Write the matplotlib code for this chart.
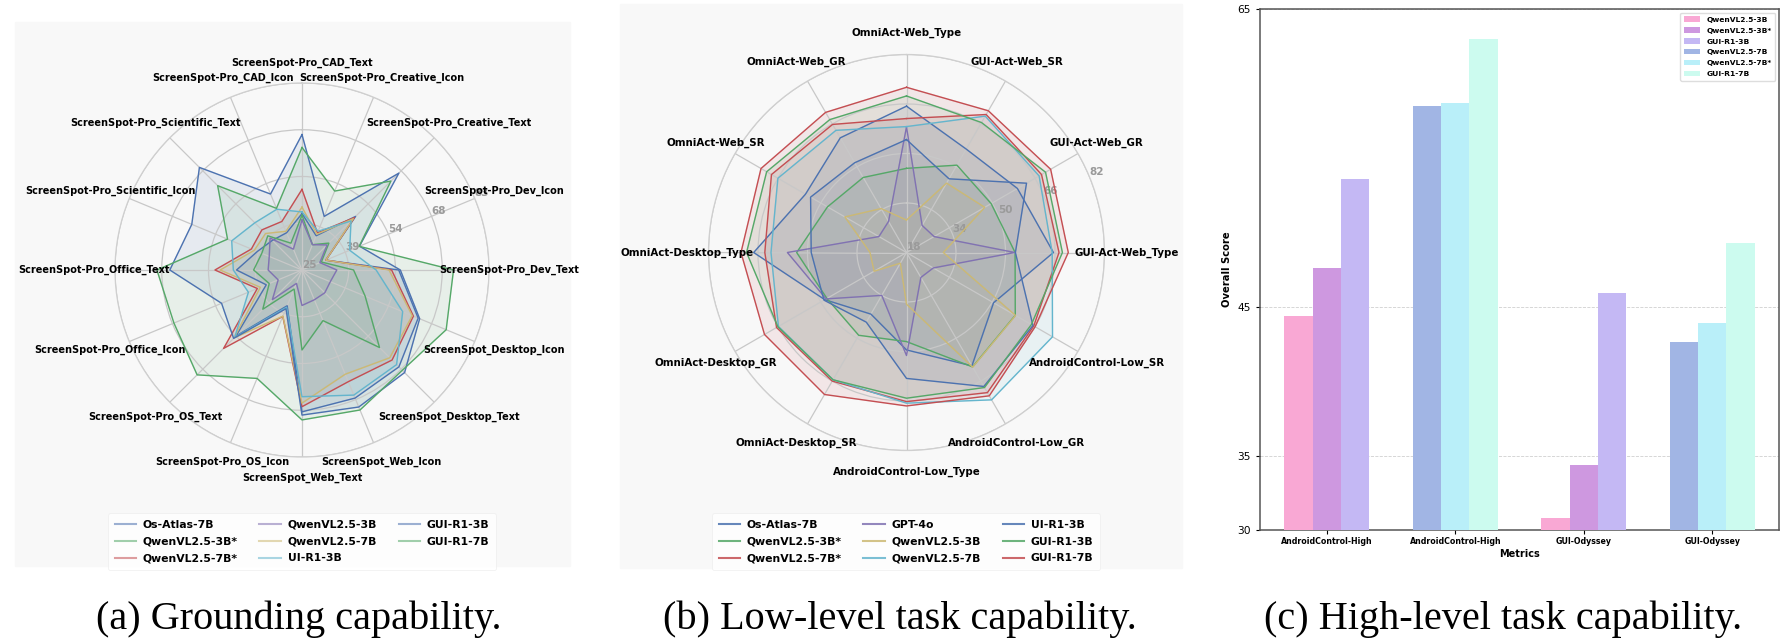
import numpy as np
import matplotlib.pyplot as plt
from matplotlib.lines import Line2D
from matplotlib.patches import Rectangle

# palette used for the radar lines (cycled)
radar_colors = ["#4C72B0", "#55A868", "#C44E52", "#8172B2", "#CCB974", "#64B5CD"]

# ---------------- (a) grounding capability ----------------
ground_cats = [
    "ScreenSpot-Pro_CAD_Text", "ScreenSpot-Pro_CAD_Icon", "ScreenSpot-Pro_Scientific_Text",
    "ScreenSpot-Pro_Scientific_Icon", "ScreenSpot-Pro_Office_Text", "ScreenSpot-Pro_Office_Icon",
    "ScreenSpot-Pro_OS_Text", "ScreenSpot-Pro_OS_Icon", "ScreenSpot_Web_Text", "ScreenSpot_Web_Icon",
    "ScreenSpot_Desktop_Text", "ScreenSpot_Desktop_Icon", "ScreenSpot-Pro_Dev_Text",
    "ScreenSpot-Pro_Dev_Icon", "ScreenSpot-Pro_Creative_Text", "ScreenSpot-Pro_Creative_Icon",
]
ground_models = ["Os-Atlas-7B", "QwenVL2.5-3B*", "QwenVL2.5-7B*", "QwenVL2.5-3B",
                 "QwenVL2.5-7B", "UI-R1-3B", "GUI-R1-3B", "GUI-R1-7B"]
os_atlas_a = [42.5, 37.5, 38, 40, 45.3, 37, 54, 37, 69, 68, 67.5, 64, 55, 33, 48.5, 36.5]
qwen3b_star_a = [42, 34, 40, 38.5, 40, 36, 42.2, 31.4, 49.8, 42, 59, 46.2, 41, 31.5, 36.8, 33.5]
qwen7b_star_a = [50, 41.3, 42.6, 42, 52, 40, 59.4, 40.6, 67.4, 62.5, 64.5, 62.4, 52.8, 33, 48, 37.5]
qwen3b_a = [40.5, 32, 39, 36, 35.5, 33, 38, 29.5, 36, 35, 35, 34.5, 35.8, 31, 36, 33.5]
qwen7b_a = [44.5, 38, 41, 41, 50.4, 39, 54.8, 40.5, 66.3, 60, 63.5, 62, 52, 33, 47.5, 37]
ui_r1_3b_a = [43, 45.4, 45.7, 48.6, 46.3, 43, 54.5, 37.5, 64.3, 67, 66.5, 58.8, 48, 41, 46.5, 38]
gui_r1_3b_a = [67, 50.5, 70, 62, 66, 52, 55, 38, 70, 71, 70, 64.5, 55.5, 44.3, 67.5, 43]
gui_r1_7b_a = [63, 45.7, 62, 50, 70, 68, 71, 61.4, 71.5, 72, 69, 73.4, 72, 44.2, 64, 51.5]
ground_rlim = (25, 83)

# ---------------- (b) low-level task capability ----------------
low_cats = [
    "OmniAct-Web_Type", "OmniAct-Web_GR", "OmniAct-Web_SR", "OmniAct-Desktop_Type",
    "OmniAct-Desktop_GR", "OmniAct-Desktop_SR", "AndroidControl-Low_Type",
    "AndroidControl-Low_GR", "AndroidControl-Low_SR", "GUI-Act-Web_Type",
    "GUI-Act-Web_GR", "GUI-Act-Web_SR",
]
low_models = ["Os-Atlas-7B", "QwenVL2.5-3B*", "QwenVL2.5-7B*", "GPT-4o", "QwenVL2.5-3B",
              "QwenVL2.5-7B", "UI-R1-3B", "GUI-R1-3B", "GUI-R1-7B"]
os_atlas_b = [65.3, 60.8, 55.7, 67.4, 48.5, 41.0, 49.5, 60.3, 50.5, 65.5, 59.4, 56.6]
qwen3b_star_b = [45.2, 46.0, 47.5, 53.5, 47.7, 48.9, 46.8, 60.7, 58.6, 53.1, 49.6, 50.6]
qwen7b_star_b = [61.3, 65.8, 68.4, 63.8, 66.5, 66.0, 66.2, 70.3, 65.5, 67.3, 68.4, 69.5]
gpt4o_b = [58.6, 29.6, 28.3, 56.5, 48.0, 34.0, 51.3, 27.3, 28.0, 53.0, 28.3, 28.1]
qwen3b_b = [28.5, 34.4, 41.0, 29.8, 30.1, 22.0, 34.7, 60.8, 58.7, 29.9, 47.2, 43.9]
qwen7b_b = [58.7, 63.6, 66.0, 61.8, 65.8, 65.5, 66.7, 73.0, 72.5, 65.1, 67.5, 68.9]
ui_r1_3b_b = [54.5, 51.5, 53.8, 48.8, 48.8, 44.0, 58.7, 68.0, 65.2, 53.2, 62.8, 45.5]
gui_r1_3b_b = [68.6, 67.6, 70.2, 69.7, 66.0, 65.5, 65.1, 68.4, 64.6, 68.4, 69.9, 66.5]
gui_r1_7b_b = [71.4, 70.3, 72.3, 71.5, 71.0, 71.0, 67.6, 71.5, 66.0, 70.3, 71.8, 70.9]
low_rlim = (18, 82)

# ---------------- (c) high-level task capability ----------------
high_groups = ["AndroidControl-High", "AndroidControl-High", "GUI-Odyssey", "GUI-Odyssey"]
high_models = ["QwenVL2.5-3B", "QwenVL2.5-3B*", "GUI-R1-3B", "QwenVL2.5-7B", "QwenVL2.5-7B*", "GUI-R1-7B"]
nan = np.nan
qwen3b_c = [44.4, nan, 30.8, nan]
qwen3b_star_c = [47.6, nan, 34.4, nan]
gui_r1_3b_c = [53.6, nan, 45.9, nan]
qwen7b_c = [nan, 58.5, nan, 42.6]
qwen7b_star_c = [nan, 58.7, nan, 43.9]
gui_r1_7b_c = [nan, 63.0, nan, 49.3]
bar_colors = ["#F9A8D4", "#CE98E0", "#C4B8F4", "#A1B5E4", "#B9EFF9", "#CCFBEF"]

W, H = 1789, 641
fig = plt.figure(figsize=(W / 100, H / 100), dpi=100)


def px_box(x0, y0, x1, y1):
    # pixel box (top-left origin) -> figure fraction rect
    return [x0 / W, 1 - y1 / H, (x1 - x0) / W, (y1 - y0) / H]


# faint panel backgrounds (behind everything)
for x0, y0, x1, y1 in [(15, 22, 570, 566), (620, 4, 1182, 568)]:
    fig.patches.append(Rectangle((x0 / W, 1 - y1 / H), (x1 - x0) / W, (y1 - y0) / H,
                                 transform=fig.transFigure, color="#f8f8f8", zorder=-10))


def radar(cx, cy, R, cats, series, rlim, label_fs):
    ax = fig.add_axes(px_box(cx - R, cy - R, cx + R, cy + R), projection="polar")
    ax.set_facecolor("none")
    n = len(cats)
    ang = np.linspace(0, 2 * np.pi, n, endpoint=False)
    ax.set_theta_offset(np.pi / 2)
    for i, vals in enumerate(series):
        c = radar_colors[i % len(radar_colors)]
        v = np.r_[vals, vals[0]]
        a = np.r_[ang, ang[0]]
        ax.plot(a, v, color=c, lw=1.0)
        ax.fill(a, v, color=c, alpha=0.1)
    ax.set_ylim(*rlim)
    ticks = np.linspace(rlim[0], rlim[1], 5)
    ax.set_yticks(ticks)
    ax.set_yticklabels([str(int(t)) for t in ticks], color="#9a9a9a",
                       fontsize=7.5, fontweight="bold")
    ax.set_rlabel_position(292.5)
    ax.set_xticks(ang)
    ax.set_xticklabels([])
    ax.grid(color="#c8c8c8", lw=0.9)
    ax.spines["polar"].set_color("#cfcfcf")
    ax.spines["polar"].set_linewidth(0.9)
    rl = rlim[1] + 0.11 * (rlim[1] - rlim[0])
    for a_, lab in zip(ang, cats):
        ax.text(a_, rl, lab, ha="center", va="center", fontsize=label_fs,
                fontweight="bold", clip_on=False)
    return ax


radar(302, 270, 187, ground_cats,
      [os_atlas_a, qwen3b_star_a, qwen7b_star_a, qwen3b_a, qwen7b_a,
       ui_r1_3b_a, gui_r1_3b_a, gui_r1_7b_a], ground_rlim, 7.0)
radar(906.5, 252.5, 198, low_cats,
      [os_atlas_b, qwen3b_star_b, qwen7b_star_b, gpt4o_b, qwen3b_b,
       qwen7b_b, ui_r1_3b_b, gui_r1_3b_b, gui_r1_7b_b], low_rlim, 7.4)


def radar_legend(models, cx, top, alpha):
    handles = [Line2D([], [], color=radar_colors[i % 6], lw=1.5, alpha=alpha)
               for i in range(len(models))]
    leg = fig.legend(handles, models, loc="upper center", ncol=3,
                     bbox_to_anchor=(cx / W, 1 - top / H),
                     prop={"size": 7.8, "weight": "bold"}, frameon=True,
                     labelspacing=0.62, handletextpad=0.6, columnspacing=2.0,
                     borderpad=0.6)
    leg.get_frame().set_edgecolor("#eeeeee")
    leg.get_frame().set_linewidth(0.6)


radar_legend(ground_models, 302, 508, 0.55)
radar_legend(low_models, 906, 508, 0.85)

# ---------------- bar chart ----------------
axc = fig.add_axes(px_box(1260, 9, 1779, 530))
w = 0.22
xg = np.arange(len(high_groups))
series_c = [qwen3b_c, qwen3b_star_c, gui_r1_3b_c, qwen7b_c, qwen7b_star_c, gui_r1_7b_c]
for i, (vals, lab) in enumerate(zip(series_c, high_models)):
    vals = np.asarray(vals, dtype=float)
    ok = ~np.isnan(vals)
    axc.bar(xg[ok] + (i % 3 - 1) * w, vals[ok], width=w, color=bar_colors[i],
            label=lab, zorder=3)
axc.set_ylim(30, 65)
axc.set_xlim(-0.52, 3.52)
axc.set_yticks([30, 35, 45, 65])
axc.set_xticks(xg)
axc.set_xticklabels(high_groups, fontsize=5.7, fontweight="bold")
axc.tick_params(axis="y", labelsize=7.7, length=3)
axc.tick_params(axis="x", length=3, pad=2)
axc.yaxis.grid(True, ls="--", color="#d0d0d0", lw=0.6, zorder=0)
for s in axc.spines.values():
    s.set_color("#555555")
    s.set_linewidth(1.1)
axc.set_ylabel("Overall Score", fontsize=7.2, fontweight="bold", labelpad=4)
axc.set_xlabel("Metrics", fontsize=7.0, fontweight="bold", labelpad=2)
lc = axc.legend(loc="upper right", prop={"size": 5.4, "weight": "bold"},
                labelspacing=0.62, handlelength=2.2, borderpad=0.5, framealpha=1)
lc.get_frame().set_edgecolor("#dddddd")

# ---------------- captions ----------------
for x, txt in [(299, "(a) Grounding capability."),
               (900, "(b) Low-level task capability."),
               (1503, "(c) High-level task capability.")]:
    fig.text(x / W, 1 - 619 / H, txt, ha="center", va="center",
             fontsize=29, family="Liberation Serif")

fig.savefig("out.png", dpi=100)
